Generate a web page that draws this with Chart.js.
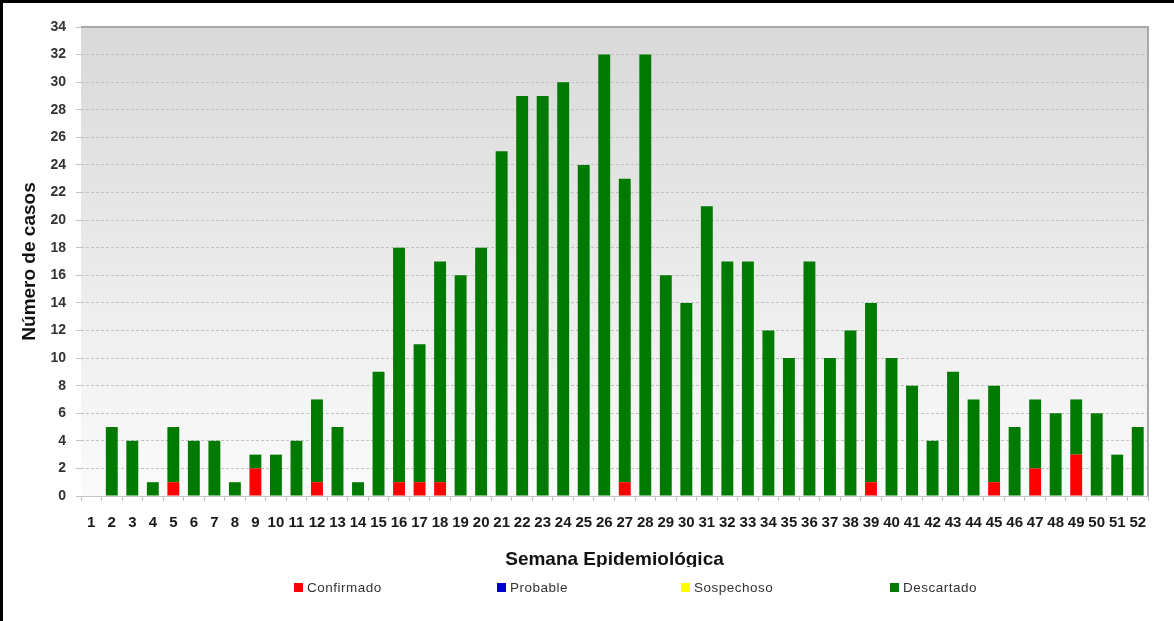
<!DOCTYPE html>
<html>
<head>
<meta charset="utf-8">
<script src="https://cdn.jsdelivr.net/npm/chart.js@4.4.1/dist/chart.umd.min.js"></script>
<style>
  html, body { margin: 0; padding: 0; background: #fff; }
  #wrap { width: 1174px; height: 621px; position: relative; }
  canvas { display: block; }
</style>
</head>
<body>
<div id="wrap"><canvas id="c" width="1174" height="621"></canvas></div>
<script>
// ---- data ----
const weeks = ['1','2','3','4','5','6','7','8','9','10','11','12','13','14','15','16','17','18','19','20','21','22','23','24','25','26','27','28','29','30','31','32','33','34','35','36','37','38','39','40','41','42','43','44','45','46','47','48','49','50','51','52'];
const confirmado = [0,0,0,0,1,0,0,0,2,0,0,1,0,0,0,1,1,1,0,0,0,0,0,0,0,0,1,0,0,0,0,0,0,0,0,0,0,0,1,0,0,0,0,0,1,0,2,0,3,0,0,0];
const probable   = [0,0,0,0,0,0,0,0,0,0,0,0,0,0,0,0,0,0,0,0,0,0,0,0,0,0,0,0,0,0,0,0,0,0,0,0,0,0,0,0,0,0,0,0,0,0,0,0,0,0,0,0];
const sospechoso = [0,0,0,0,0,0,0,0,0,0,0,0,0,0,0,0,0,0,0,0,0,0,0,0,0,0,0,0,0,0,0,0,0,0,0,0,0,0,0,0,0,0,0,0,0,0,0,0,0,0,0,0];
const descartado = [0,5,4,1,4,4,4,1,1,3,4,6,5,1,9,17,10,16,16,18,25,29,29,30,24,32,22,32,16,14,21,17,17,12,10,17,10,12,13,10,8,4,9,7,7,5,5,6,4,6,3,5];
const seriesNames = ['Confirmado','Probable','Sospechoso','Descartado'];
const seriesColors = ['#ff0000','#0000cc','#ffff00','#007a00'];
const yTitle = 'Número de casos';
const xTitle = 'Semana Epidemiológica';
const yMax = 34, yStep = 2;

// ---- layout constants ----
const legendX = [294, 497, 681, 890];
const legendY = 588;

const narrow = "'Liberation Sans Narrow', 'Arial Narrow', 'Liberation Sans', Arial, sans-serif";
const sans = "'Liberation Sans', Arial, sans-serif";

const bgPlugin = {
  id: 'bg',
  beforeDraw(chart) {
    const {ctx, chartArea: a} = chart;
    ctx.save();
    ctx.fillStyle = '#fff';
    ctx.fillRect(0, 0, chart.width, chart.height);
    const g = ctx.createLinearGradient(0, a.top, 0, a.bottom);
    g.addColorStop(0, '#d9d9d9');
    g.addColorStop(1, '#fbfbfb');
    ctx.fillStyle = g;
    ctx.fillRect(a.left, a.top, a.right - a.left, a.bottom - a.top);
    ctx.restore();
  },
  afterDraw(chart) {
    const {ctx, chartArea: a} = chart;
    ctx.save();
    // plot frame top/right
    ctx.strokeStyle = '#a9a9a9';
    ctx.lineWidth = 2;
    ctx.beginPath();
    ctx.moveTo(a.left, a.top);
    ctx.lineTo(a.right, a.top);
    ctx.lineTo(a.right, a.bottom);
    ctx.stroke();
    // the x title is cut just under its baseline in the original image
    ctx.fillStyle = '#fff';
    ctx.fillRect(a.left + 300, 567, 440, 10);
    // outer black border (top, left)
    ctx.fillStyle = '#000';
    ctx.fillRect(0, 0, chart.width, 3);
    ctx.fillRect(0, 0, 3, chart.height);
    // legend
    ctx.font = '13.5px ' + sans;
    ctx.textBaseline = 'middle';
    ctx.textAlign = 'left';
    try { ctx.letterSpacing = '0.5px'; } catch (e) {}
    seriesNames.forEach((n, i) => {
      ctx.fillStyle = seriesColors[i];
      ctx.fillRect(legendX[i], legendY - 5, 9, 9);
      ctx.fillStyle = '#333';
      ctx.fillText(n, legendX[i] + 13, legendY);
    });
    ctx.restore();
  }
};

const seriesData = [confirmado, probable, sospechoso, descartado];

new Chart(document.getElementById('c'), {
  type: 'bar',
  data: {
    labels: weeks,
    datasets: seriesNames.map((n, i) => ({
      label: n,
      data: seriesData[i],
      backgroundColor: seriesColors[i],
      borderWidth: 0,
      barPercentage: 0.58,
      categoryPercentage: 1.0
    }))
  },
  options: {
    responsive: false,
    devicePixelRatio: 1,
    animation: false,
    layout: { padding: { left: 0, top: 27, right: 26, bottom: 50 } },
    plugins: {
      legend: { display: false },
      tooltip: { enabled: false }
    },
    scales: {
      x: {
        stacked: true,
        offset: true,
        grid: { drawOnChartArea: false, offset: true, tickLength: 5, color: '#c0c0c0' },
        border: { color: '#c4c4c4' },
        ticks: { autoSkip: false, maxRotation: 0, padding: 13, color: '#1a1a1a',
                 font: { family: narrow, size: 15, weight: 'bold' } },
        title: { display: true, text: xTitle, color: '#111', padding: 0,
                 font: { family: sans, size: 19, weight: 'bold' } },
        afterFit(s) { s.height = 75; }
      },
      y: {
        stacked: true,
        min: 0, max: yMax,
        ticks: { stepSize: yStep, padding: 10, color: '#333',
                 font: { family: narrow, size: 14, weight: 'bold' } },
        grid: { color: '#c2c2c2', tickLength: 5, tickBorderDash: [] },
        border: { display: false, dash: [3, 2] },
        title: { display: true, text: yTitle, color: '#111', padding: { top: 18, bottom: 0 },
                 font: { family: sans, size: 19, weight: 'bold' } },
        afterFit(s) { s.width = 81; }
      }
    }
  },
  plugins: [bgPlugin]
});
</script>
</body>
</html>
